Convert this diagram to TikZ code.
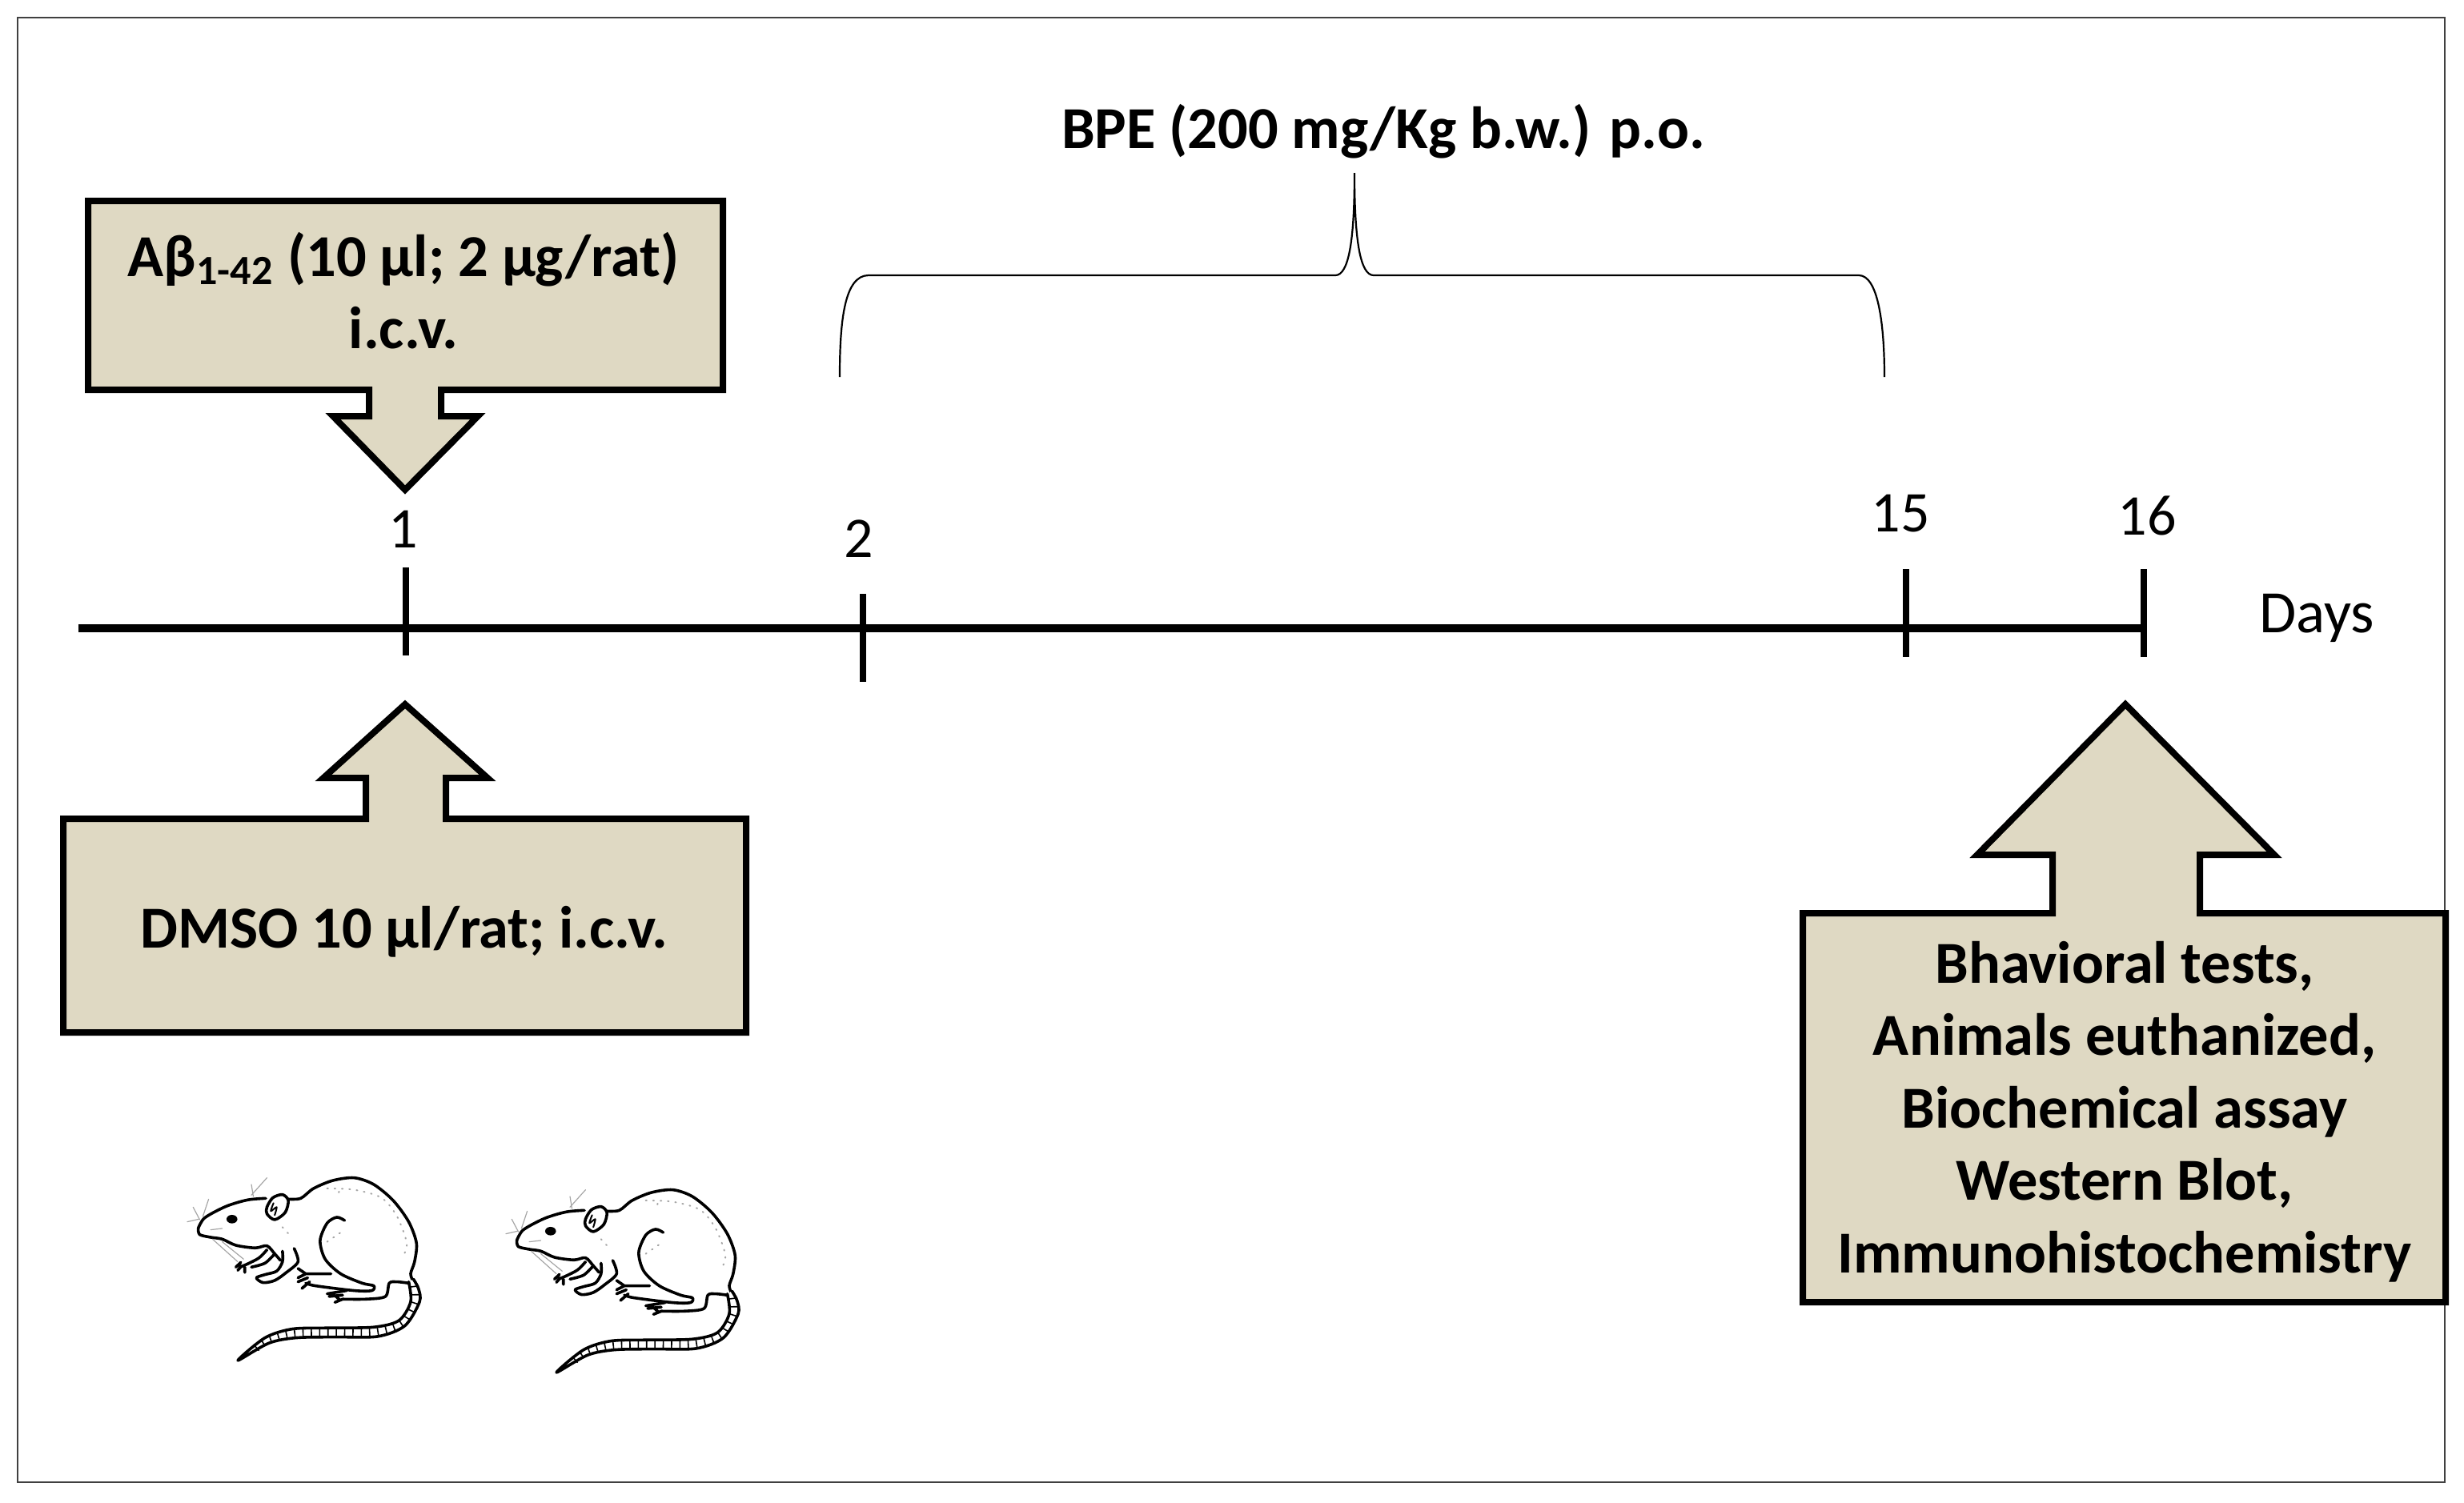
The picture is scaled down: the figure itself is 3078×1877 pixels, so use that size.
\documentclass[tikz,border=0pt]{standalone}
\usepackage{fontspec}
\setmainfont{Carlito}
\definecolor{boxtan}{HTML}{DFD9C3}
\tikzstyle{callout}=[draw=black,fill=boxtan,line width=2pt,line join=miter,miter limit=4]
\tikzstyle{boxtext}=[font=\fontsize{18.6}{22.6}\selectfont\bfseries,align=center,inner sep=0pt]
\tikzstyle{daylabel}=[font=\fontsize{18}{22}\selectfont,inner sep=0pt]
\tikzstyle{axis}=[line width=2.6pt]
\tikzstyle{daytick}=[line width=1.8pt]
\tikzstyle{ratline}=[line width=0.9pt,line cap=round,line join=round]
\tikzstyle{ratfur}=[line width=0.3pt,gray!70,line cap=round]
\newcommand{\newtick}[3]{
	\coordinate (top#1) at (#2,#3);
	\coordinate (bot#1) at (#2,#3+110);
	\draw[daytick] (top#1) -- (bot#1);
}
% a rat, in the units of a 3x crop
\newcommand{\newrat}[2]{
\begin{scope}[shift={(#1,#2)},x=0.1213pt,y=-0.0833pt]
	\draw[ratline] plot[smooth] coordinates {(98,345) (115,305) (170,262) (225,238) (272,232)};
	\draw[ratline] plot[smooth cycle] coordinates {(275,265) (290,230) (315,218) (330,240) (322,285) (295,312) (275,290)};
	\draw[ratline,line width=0.5pt] plot[smooth] coordinates {(292,250) (285,280) (300,265) (295,295)};
	\draw[ratline] plot[smooth] coordinates {(330,235) (362,232) (395,195) (445,165) (500,155) (550,180) (600,240) (640,320) (660,400) (655,470) (645,515) (652,545)};
	\draw[ratline] plot[smooth] coordinates {(98,345) (102,368) (130,378) (160,385) (195,408) (245,418) (275,410) (295,440) (310,465)};
	\fill (185,310) ellipse (14 and 16);
	%front legs
	\draw[ratline] plot[smooth] coordinates {(275,425) (255,455) (225,478) (205,490)};
	\draw[ratline] plot[smooth] coordinates {(295,440) (270,475) (235,490)};
	\draw[ratline] (208,472) -- (195,490) (210,485) -- (200,502) (218,490) -- (218,510);
	\draw[ratline] plot[smooth] coordinates {(345,420) (355,470) (325,510) (295,540) (265,548) (248,530) (270,518) (300,505) (315,470) (315,430)};
	%haunch and feet
	\draw[ratline] plot[smooth] coordinates {(475,315) (455,303) (430,325) (412,390) (425,460) (465,515) (520,550) (550,560) (545,578) (500,578) (400,560) (375,550)};
	\draw[ratline] (355,495) -- (375,515) -- (440,515) (375,515) -- (355,530) (380,530) -- (355,545) (385,545) -- (365,570);
	\draw[ratline] plot[smooth] coordinates {(470,610) (530,610) (580,600) (590,550) (610,545) (640,550)};
	\draw[ratline] (480,578) -- (430,590) (470,595) -- (435,600) (470,610) -- (450,622) (445,590) -- (462,612);
	%tail
	\draw[ratline,fill=white] plot[smooth] coordinates {(640,545) (645,620) (615,690) (550,715) (430,718) (340,722) (270,755) (200,840) (280,775) (350,755) (450,752) (560,750) (630,710) (668,620) (665,570) (652,535)};
	\draw[line width=2.6pt,dash pattern=on 0.4pt off 2.2pt] plot[smooth] coordinates {(655,560) (655,620) (625,700) (555,733) (440,735) (345,738) (275,765) (245,795)};
	%whiskers and fur
	\draw[ratfur] (85,265) -- (102,312) (125,235) -- (110,300) (70,320) -- (100,310) (235,180) -- (240,225) (275,155) -- (235,220);
	\draw[ratfur] (135,385) -- (200,470) (160,395) -- (215,460) (130,350) -- (160,345);
	\draw[ratfur,dotted,line width=0.5pt] plot[smooth] coordinates {(430,195) (500,200) (570,230) (610,300) (635,400) (625,450)};
	\draw[ratfur,dotted,line width=0.5pt] (315,340) -- (340,380) (460,210) -- (465,185) (430,395) -- (465,360);
\end{scope}
}
\begin{document}
\begin{tikzpicture}[x=0.25pt,y=-0.25pt]
	\useasboundingbox (0,0) rectangle (3078,1877);
	\draw[line width=0.55pt,black!75] (22,22) rectangle (3054,1852);
	%timeline
	\coordinate (axisleft) at (98,785);
	\coordinate (axisright) at (2678,785);
	\draw[axis] (axisleft) -- (axisright);
	\newtick{one}{507}{709}
	\newtick{two}{1078}{742}
	\newtick{fifteen}{2381}{711}
	\newtick{sixteen}{2678}{711}
	\node[daylabel] (dayone) at (504,661) {1};
	\node[daylabel] (daytwo) at (1073,673) {2};
	\node[daylabel] (dayfifteen) at (2374,642) {15};
	\node[daylabel] (daysixteen) at (2682,644) {16};
	\node[daylabel,font=\fontsize{18.8}{22}\selectfont] (days) at (2894,772) {Days};
	%boxes with arrows
	\draw[callout] (110,251) -- (903,251) -- (903,487) -- (551,487) -- (551,520) -- (597,520) -- (506,612) -- (416,520) -- (461,520) -- (461,487) -- (110,487) -- cycle;
	\node[boxtext] (abeta) at (504,363) {Aβ\textsubscript{1-42} (10 μl; 2 μg/rat)\\i.c.v.};
	\draw[callout] (79,1023) -- (457,1023) -- (457,972) -- (404,972) -- (506,880) -- (609,972) -- (557,972) -- (557,1023) -- (932,1023) -- (932,1290) -- (79,1290) -- cycle;
	\node[boxtext] (dmso) at (505,1164) {DMSO 10 μl/rat; i.c.v.};
	\draw[callout] (2252,1141) -- (2564,1141) -- (2564,1068) -- (2470,1068) -- (2655,880) -- (2841,1068) -- (2748,1068) -- (2748,1141) -- (3055,1141) -- (3055,1627) -- (2252,1627) -- cycle;
	\node[boxtext] (assays) at (2654,1389) {Bhavioral tests,\\Animals euthanized,\\Biochemical assay\\Western Blot,\\Immunohistochemistry};
	%brace
	\node[boxtext] (bpe) at (1728,164) {BPE (200 mg/Kg b.w.) p.o.};
	\coordinate (braceleft) at (1049,471);
	\coordinate (braceright) at (2354,471);
	\coordinate (bracetip) at (1692,216);
	\draw[line width=0.55pt] (braceleft) .. controls (1049,400) and (1055,344) .. (1085,344) -- (1668,344) .. controls (1685,344) and (1692,300) .. (bracetip) .. controls (1692,300) and (1699,344) .. (1716,344) -- (2322,344) .. controls (2345,344) and (2354,400) .. (braceright);
	%rats
	\newrat{200}{1420}
	\newrat{598}{1435}
\end{tikzpicture}
\end{document}
